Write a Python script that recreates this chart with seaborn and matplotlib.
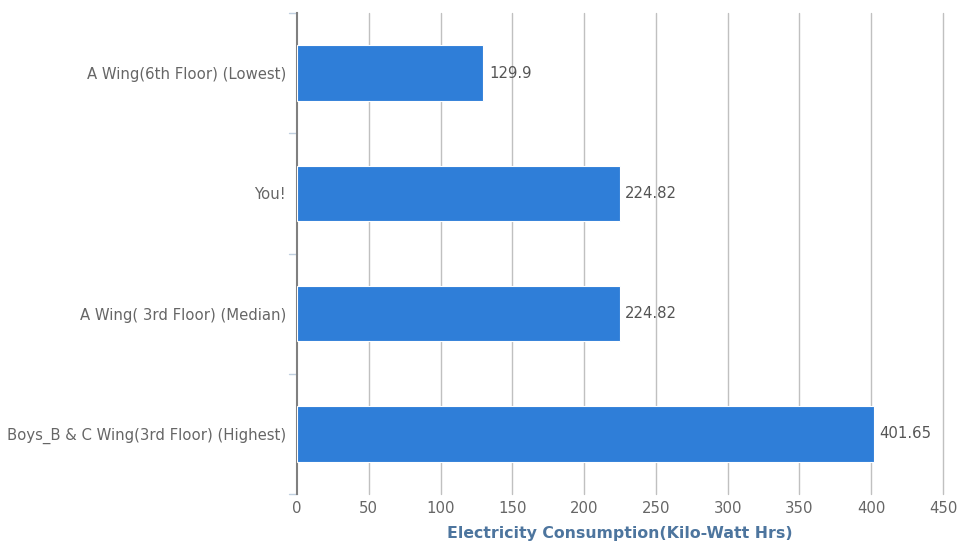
import matplotlib
matplotlib.use("Agg")
import matplotlib.pyplot as plt
import seaborn as sns
import pandas as pd

categories = [
    "A Wing(6th Floor) (Lowest)",
    "You!",
    "A Wing( 3rd Floor) (Median)",
    "Boys_B & C Wing(3rd Floor) (Highest)",
]
consumption = [129.9, 224.82, 224.82, 401.65]
value_labels = ["129.9", "224.82", "224.82", "401.65"]
x_ticks = [0, 50, 100, 150, 200, 250, 300, 350, 400, 450]

df = pd.DataFrame({"category": categories, "kwh": consumption})

sns.set_style("white")
plt.rcParams["font.family"] = ["DejaVu Sans"]

fig = plt.figure(figsize=(9.58, 5.45), dpi=100)
ax = fig.add_axes([297 / 958, 1 - 494 / 545, (943 - 297) / 958, (494 - 13) / 545])

sns.barplot(data=df, x="kwh", y="category", color="#2f7ed8", saturation=1,
            width=0.46, edgecolor="white", linewidth=0.8, ax=ax, zorder=3)

ax.set_xlim(0, 450)
ax.set_ylim(3.5, -0.5)
ax.set_xticks(x_ticks)
ax.set_xticklabels([str(t) for t in x_ticks])
ax.yaxis.grid(False)
# vertical gridlines, including the one on the right edge
for t in x_ticks[1:]:
    ax.axvline(t, color="#c0c0c0", linewidth=1, zorder=0, clip_on=False)

for side in ["top", "right", "bottom"]:
    ax.spines[side].set_visible(False)
ax.spines["left"].set_color("#808080")
ax.spines["left"].set_linewidth(1.5)

# category boundary ticks on the left axis
ax.set_yticks(range(len(categories)))
ax.set_yticklabels(categories)
ax.tick_params(axis="y", length=0, pad=8, labelsize=10.7, labelcolor="#666666")
ax.tick_params(axis="x", length=0, pad=5, labelsize=10.7, labelcolor="#666666")
for b in [-0.5, 0.5, 1.5, 2.5, 3.5]:
    ax.plot([-0.012, 0], [b, b], transform=ax.get_yaxis_transform(),
            color="#c0d0e0", linewidth=1, clip_on=False)

for i, (v, lab) in enumerate(zip(consumption, value_labels)):
    ax.annotate(lab, xy=(v, i), xytext=(4, 0), textcoords="offset points",
                ha="left", va="center", fontsize=10.7, color="#555555")

ax.set_ylabel("")
ax.set_xlabel("Electricity Consumption(Kilo-Watt Hrs)", fontsize=11.3,
              fontweight="bold", color="#4d759e", labelpad=7)

fig.savefig("out.png", dpi=100)
